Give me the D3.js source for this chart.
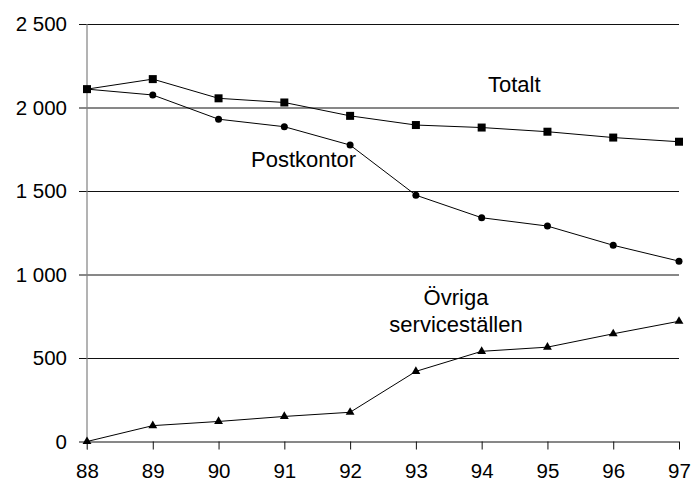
<!DOCTYPE html>
<html>
<head>
<meta charset="utf-8">
<script src="https://cdn.jsdelivr.net/npm/d3@7"></script>
<style>
  body { margin: 0; background: #fff; }
  svg { display: block; font-family: "Liberation Sans", Arial, sans-serif; }
</style>
</head>
<body>
<div id="chart"></div>
<script>
// years on the x axis
const years = [88, 89, 90, 91, 92, 93, 94, 95, 96, 97];
// series values
const totalt = [2110, 2170, 2055, 2030, 1950, 1895, 1880, 1855, 1820, 1795];
const postkontor = [2110, 2075, 1930, 1885, 1775, 1475, 1340, 1290, 1175, 1080];
const ovriga = [0, 95, 120, 150, 175, 420, 540, 565, 645, 720];
const yTicks = [0, 500, 1000, 1500, 2000, 2500];

const width = 693, height = 485;
const margin = {top: 24, right: 14, bottom: 43.5, left: 87};

const x = d3.scaleLinear()
  .domain([88, 97])
  .range([margin.left, width - margin.right]);

const y = d3.scaleLinear()
  .domain([0, 2500])
  .range([height - margin.bottom, margin.top]);

const svg = d3.select("#chart").append("svg")
  .attr("width", width)
  .attr("height", height);

// y axis with gridlines
const yAxis = g => g
  .attr("transform", `translate(${margin.left},0)`)
  .call(d3.axisLeft(y).tickValues(yTicks).tickSize(8).tickPadding(12)
    .tickFormat(d => d3.format(",")(d).replace(/,/g, " ")))
  .call(g => g.select(".domain").remove())
  .call(g => g.selectAll(".tick line").attr("stroke", "#111"))
  .call(g => g.selectAll(".tick line")
    .clone()
    .attr("x2", width - margin.right - margin.left)
    .attr("stroke", "#111"))
  .call(g => g.selectAll(".tick text")
    .attr("font-size", 20.5)
    .attr("fill", "#000"));

// x axis
const xAxis = g => g
  .attr("transform", `translate(0,${height - margin.bottom})`)
  .call(d3.axisBottom(x).tickValues(years).tickSize(8).tickPadding(14))
  .call(g => g.select(".domain").remove())
  .call(g => g.selectAll(".tick line").attr("stroke", "#111"))
  .call(g => g.selectAll(".tick text")
    .attr("font-size", 20.5)
    .attr("fill", "#000"));

svg.append("g").call(yAxis);
svg.append("g").call(xAxis);

// vertical axis line
svg.append("line")
  .attr("x1", x(88)).attr("x2", x(88))
  .attr("y1", y(2500)).attr("y2", y(0) + 8)
  .attr("stroke", "#808080")
  .attr("stroke-width", 1.2);

const line = d3.line()
  .x((d, i) => x(years[i]))
  .y(d => y(d));

[totalt, postkontor, ovriga].forEach(s => {
  svg.append("path")
    .datum(s)
    .attr("fill", "none")
    .attr("stroke", "#000")
    .attr("stroke-width", 1)
    .attr("d", line);
});

// markers
svg.append("g").selectAll("rect")
  .data(totalt)
  .enter().append("rect")
  .attr("x", (d, i) => x(years[i]) - 4)
  .attr("y", d => y(d) - 4)
  .attr("width", 8)
  .attr("height", 8)
  .attr("fill", "#000");

svg.append("g").selectAll("circle")
  .data(postkontor)
  .enter().append("circle")
  .attr("cx", (d, i) => x(years[i]))
  .attr("cy", d => y(d))
  .attr("r", 3.5)
  .attr("fill", "#000");

const tri = d3.symbol().type(d3.symbolTriangle).size(34);
svg.append("g").selectAll("path")
  .data(ovriga)
  .enter().append("path")
  .attr("transform", (d, i) => `translate(${x(years[i])},${y(d)})`)
  .attr("d", tri)
  .attr("fill", "#000");

// series labels
const labels = svg.append("g")
  .attr("font-size", 22)
  .attr("fill", "#000");

labels.append("text")
  .attr("x", 488)
  .attr("y", 92)
  .text("Totalt");

labels.append("text")
  .attr("x", 251)
  .attr("y", 167)
  .text("Postkontor");

labels.append("text")
  .attr("x", 456)
  .attr("y", 305)
  .attr("text-anchor", "middle")
  .text("Övriga");

labels.append("text")
  .attr("x", 456)
  .attr("y", 332)
  .attr("text-anchor", "middle")
  .text("serviceställen");
</script>
</body>
</html>
